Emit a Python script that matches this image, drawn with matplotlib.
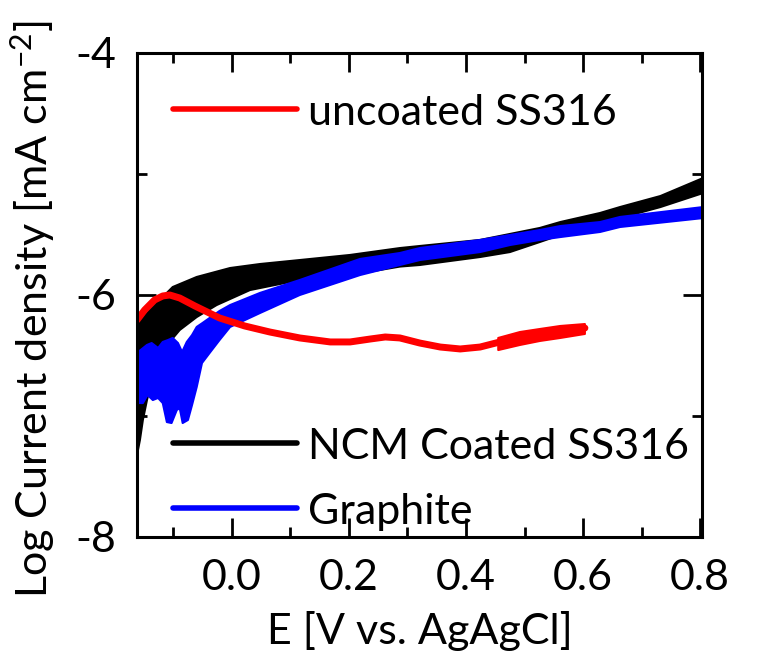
import numpy as np
import matplotlib
matplotlib.use("Agg")
import matplotlib.pyplot as plt
from matplotlib.ticker import MultipleLocator

FONT = "Lato"
plt.rcParams['font.family'] = [FONT, 'DejaVu Sans']
plt.rcParams['mathtext.fontset'] = 'custom'
plt.rcParams['mathtext.rm'] = FONT
plt.rcParams['mathtext.it'] = FONT
plt.rcParams['mathtext.default'] = 'regular'

# ---------------- data ----------------
series_names = ["uncoated SS316", "NCM Coated SS316", "Graphite"]
series_colors = ["#ff0000", "#000000", "#0000ff"]

# uncoated SS316 (red) - centre line
red_x = [-0.162, -0.149, -0.132, -0.118, -0.106, -0.089, -0.063, -0.021, 0.022, 0.065,
         0.116, 0.168, 0.202, 0.236, 0.262, 0.287, 0.321, 0.356, 0.390, 0.424,
         0.458, 0.492, 0.526, 0.561, 0.603]
red_y = [-6.207, -6.124, -6.041, -6.008, -6.000, -6.025, -6.091, -6.190, -6.256, -6.306,
         -6.355, -6.388, -6.388, -6.364, -6.347, -6.355, -6.397, -6.430, -6.446, -6.430,
         -6.388, -6.355, -6.330, -6.306, -6.273]
# noisy end part of the red curve (upper / lower envelope)
red_noise_x = [0.455, 0.492, 0.526, 0.561, 0.603]
red_noise_hi = [-6.355, -6.306, -6.281, -6.256, -6.240]
red_noise_lo = [-6.455, -6.413, -6.380, -6.355, -6.322]

# NCM Coated SS316 (black) - upper and lower envelope of the band
ncm_up_x = [-0.162, -0.140, -0.123, -0.101, -0.060, -0.003, 0.048, 0.116, 0.202, 0.287,
            0.321, 0.424, 0.526, 0.561, 0.629, 0.663, 0.732, 0.805]
ncm_up_y = [-6.248, -6.124, -6.041, -5.934, -5.851, -5.777, -5.744, -5.711, -5.669, -5.612,
            -5.595, -5.545, -5.446, -5.397, -5.322, -5.273, -5.182, -5.033]
ncm_lo_x = [-0.162, -0.157, -0.152, -0.145, -0.132, -0.115, -0.089, -0.060, -0.026, 0.031,
            0.116, 0.202, 0.287, 0.321, 0.424, 0.475, 0.526, 0.561, 0.629, 0.663, 0.732, 0.805]
ncm_lo_y = [-7.322, -7.198, -7.033, -6.868, -6.620, -6.438, -6.289, -6.182, -6.083, -5.959,
            -5.876, -5.835, -5.765, -5.752, -5.686, -5.645, -5.562, -5.504, -5.405, -5.364,
            -5.273, -5.157]

# Graphite (blue) - upper and lower envelope of the band
gr_up_x = [-0.162, -0.145, -0.137, -0.126, -0.118, -0.109, -0.101, -0.092, -0.085, -0.077,
           -0.068, -0.060, -0.050, -0.038, -0.021, -0.003, 0.048, 0.116, 0.219, 0.287,
           0.321, 0.424, 0.475, 0.526, 0.561, 0.629, 0.663, 0.805]
gr_up_y = [-6.479, -6.413, -6.397, -6.438, -6.388, -6.372, -6.355, -6.397, -6.471, -6.388,
           -6.331, -6.264, -6.231, -6.190, -6.132, -6.083, -5.983, -5.876, -5.702, -5.653,
           -5.612, -5.545, -5.504, -5.463, -5.430, -5.397, -5.355, -5.273]
gr_lo_x = [-0.162, -0.152, -0.144, -0.135, -0.126, -0.118, -0.111, -0.103, -0.094, -0.089,
           -0.084, -0.075, -0.068, -0.060, -0.051, -0.038, -0.021, -0.003, 0.048, 0.116,
           0.219, 0.287, 0.321, 0.424, 0.475, 0.526, 0.561, 0.629, 0.663, 0.805]
gr_lo_y = [-6.893, -6.893, -6.826, -6.868, -6.851, -6.893, -7.050, -7.058, -6.950, -6.935,
           -7.058, -7.033, -6.909, -6.760, -6.562, -6.479, -6.372, -6.264, -6.149, -6.000,
           -5.835, -5.752, -5.711, -5.645, -5.587, -5.545, -5.521, -5.479, -5.438, -5.364]

x_label = "E [V vs. AgAgCl]"
y_label = r"Log Current density [mA cm$^{-2}$]"
x_major = [0.0, 0.2, 0.4, 0.6, 0.8]
y_major = [-8, -6, -4]
x_range = (-0.162, 0.803)
y_range = (-8, -4)

# ---------------- figure ----------------
FS = 31
fig = plt.figure(figsize=(7.59, 6.57), dpi=100)
ax = fig.add_axes([137 / 759, 1 - 537 / 657, 565 / 759, 484 / 657])

def band(xu, yu, xl, yl, color):
    px = np.r_[np.asarray(xu), np.asarray(xl)[::-1]]
    py = np.r_[np.asarray(yu), np.asarray(yl)[::-1]]
    ax.fill(px, py, color=color, lw=1.5, ec=color, joinstyle='round')

band(ncm_up_x, ncm_up_y, ncm_lo_x, ncm_lo_y, series_colors[1])
band(gr_up_x, gr_up_y, gr_lo_x, gr_lo_y, series_colors[2])
ax.plot(red_x, red_y, color=series_colors[0], lw=5.0, solid_capstyle='round')
band(red_noise_x, red_noise_hi, red_noise_x, red_noise_lo, series_colors[0])

ax.set_xlim(*x_range)
ax.set_ylim(*y_range)
ax.set_xticks(x_major)
ax.set_xticklabels([f"{v:.1f}" for v in x_major])
ax.set_yticks(y_major)
ax.set_yticklabels([f"{v:d}" for v in y_major])
ax.xaxis.set_minor_locator(MultipleLocator(0.1))
ax.yaxis.set_minor_locator(MultipleLocator(1))

for s in ax.spines.values():
    s.set_linewidth(2.2)
ax.tick_params(which='both', direction='in', top=True, right=True, width=2.0,
               labelsize=FS)
ax.tick_params(which='major', length=13.5)
ax.tick_params(axis='x', which='major', pad=16)
ax.tick_params(axis='y', which='major', pad=15)
ax.tick_params(which='minor', length=7.5)

ax.set_xlabel(x_label, fontsize=FS, labelpad=10)
ax.set_ylabel(y_label, fontsize=FS)
ax.yaxis.set_label_coords(-0.142, 0.47)

# legend (three separate entries)
leg_y = [0.884, 0.194, 0.060]
for name, col, yy in zip(series_names, series_colors, leg_y):
    ax.plot([0.0637, 0.283], [yy, yy], color=col, lw=4.0, solid_capstyle='round',
            transform=ax.transAxes, clip_on=False)
    ax.text(0.303, yy - 0.008, name, fontsize=FS, va='center', ha='left',
            transform=ax.transAxes)

fig.savefig("out.png", dpi=100)
